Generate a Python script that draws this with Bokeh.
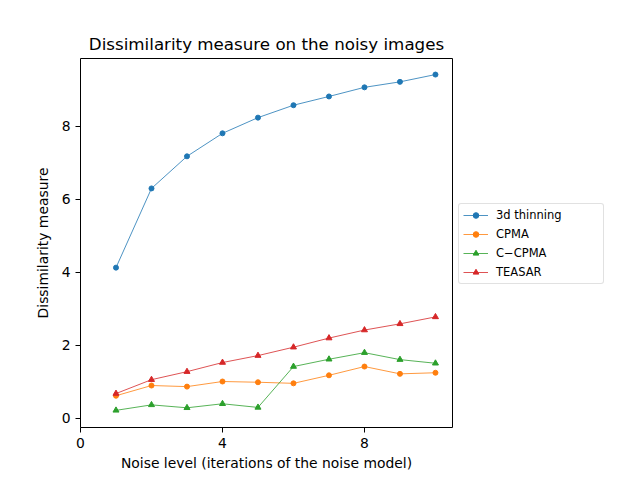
from bokeh.plotting import figure
from bokeh.models import Legend, LegendItem, FixedTicker, Range1d
from bokeh.embed import file_html
from bokeh.resources import INLINE

noise = [1, 2, 3, 4, 5, 6, 7, 8, 9, 10]
thinning = [4.13, 6.30, 7.18, 7.81, 8.24, 8.58, 8.82, 9.07, 9.22, 9.42]
cpma = [0.62, 0.90, 0.87, 1.01, 0.99, 0.96, 1.18, 1.42, 1.22, 1.25]
ccpma = [0.22, 0.37, 0.29, 0.40, 0.30, 1.42, 1.62, 1.80, 1.61, 1.51]
teasar = [0.68, 1.06, 1.28, 1.53, 1.72, 1.95, 2.20, 2.42, 2.59, 2.78]
x_ticks = [0, 4, 8]
y_ticks = [0, 2, 4, 6, 8]

FONT = "DejaVu Sans"

p = figure(frame_width=372, frame_height=369, output_backend="svg", toolbar_location=None,
           x_range=Range1d(0, 10.48), y_range=Range1d(-0.25, 9.86),
           min_border_left=80, min_border_right=0, min_border_top=58, min_border_bottom=37)
p.title.text = "Dissimilarity measure on the noisy images"
p.title.align = "center"
p.title.text_font = FONT
p.title.text_font_size = "16.7px"
p.title.text_font_style = "normal"
p.title.text_color = "black"

p.xgrid.visible = False
p.ygrid.visible = False
p.outline_line_color = "black"
p.outline_line_alpha = 1
p.outline_line_width = 1

for ax in (p.xaxis[0], p.yaxis[0]):
    ax.axis_label_text_font = FONT
    ax.axis_label_text_font_size = "13.9px"
    ax.axis_label_text_font_style = "normal"
    ax.axis_label_text_color = "black"
    ax.major_label_text_font = FONT
    ax.major_label_text_font_size = "13.9px"
    ax.major_label_text_color = "black"
    ax.minor_tick_line_color = None
    ax.major_tick_out = 5
    ax.major_tick_in = 0
    ax.axis_line_color = None
    ax.major_tick_line_color = "black"

p.xaxis.ticker = FixedTicker(ticks=x_ticks)
p.yaxis.ticker = FixedTicker(ticks=y_ticks)
p.xaxis.axis_label = "Noise level (iterations of the noise model)"
p.yaxis.axis_label = "Dissimilarity measure"
p.xaxis.axis_label_standoff = 4
p.yaxis.axis_label_standoff = 8

series = [
    ("3d thinning", thinning, "#1f77b4", "circle"),
    ("CPMA", cpma, "#ff7f0e", "circle"),
    ("C\u2212CPMA", ccpma, "#2ca02c", "triangle"),
    ("TEASAR", teasar, "#d62728", "triangle"),
]
items = []
for name, ys, col, marker in series:
    l = p.line(noise, ys, line_color=col, line_width=0.8)
    s = p.scatter(noise, ys, marker=marker, size=5 if marker == "circle" else 6,
                  fill_color=col, line_color=col)
    items.append(LegendItem(label=name, renderers=[l, s]))

legend = Legend(items=items, location=(6, 143), orientation="vertical")
legend.label_text_font = FONT
legend.label_text_font_size = "11.5px"
legend.label_text_color = "black"
legend.border_line_color = "#c4c4c4"
legend.border_line_width = 1
legend.border_radius = 3
legend.glyph_width = 25
legend.glyph_height = 14
legend.label_width = 103
legend.spacing = 5
legend.padding = 4
legend.margin = 0
legend.label_standoff = 8
p.add_layout(legend, "right")

open("out.html", "w").write(file_html(p, INLINE))
